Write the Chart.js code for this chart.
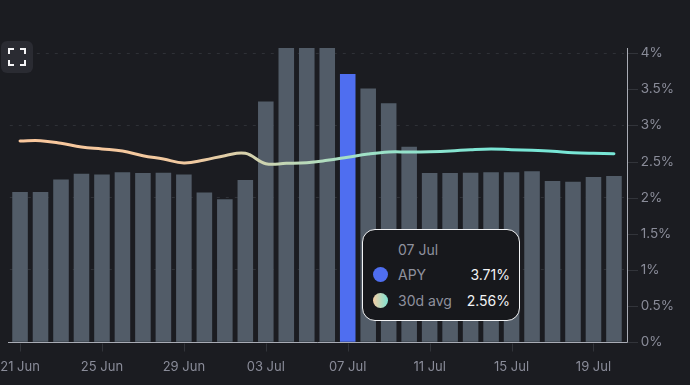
<!DOCTYPE html>
<html><head><meta charset="utf-8">
<script src="https://cdn.jsdelivr.net/npm/chart.js@4"></script>
<style>
html,body{margin:0;padding:0;background:#1b1c21;width:690px;height:385px;overflow:hidden;font-family:Inter,sans-serif}
#wrap{position:absolute;left:0;top:0;width:690px;height:385px}
#btn{position:absolute;left:1px;top:41px;width:32px;height:32px;border-radius:6px;background:#2a2b32}
#btn svg{position:absolute;left:7px;top:7px}
#tip{position:absolute;left:362px;top:229px;width:156px;height:90px;border:1.5px solid #f2f3f5;border-radius:13px;background:#17181c;font-size:14px;color:#8f919e}
#tip div{position:absolute;white-space:nowrap;line-height:18px}
.dot{width:15px;height:15px;border-radius:50%;left:10px}
.v{right:9px;color:#f2f3f5}
</style></head><body>
<div id="wrap"><canvas id="c" width="690" height="385"></canvas></div>
<div id="btn"><svg width="18" height="18" viewBox="0 0 18 18" fill="none" stroke="#f4f4f6" stroke-width="2"><path d="M1 6V1H6M12 1H17V6M17 12V17H12M6 17H1V12"/></svg></div>
<div id="tip">
<div id="tDate" style="left:35px;top:10.5px"></div>
<div class="dot" style="top:37px;background:#4f6ef0"></div>
<div id="n0" style="left:35px;top:36px"></div><div id="v0" class="v" style="top:36px"></div>
<div class="dot" style="top:63px;background:linear-gradient(90deg,#f6cda4,#7fe3d3)"></div>
<div id="n1" style="left:35px;top:61.5px"></div><div id="v1" class="v" style="top:61.5px"></div>
</div>
<script>
const categories = ["21 Jun","22 Jun","23 Jun","24 Jun","25 Jun","26 Jun","27 Jun","28 Jun","29 Jun","30 Jun","01 Jul","02 Jul","03 Jul","04 Jul","05 Jul","06 Jul","07 Jul","08 Jul","09 Jul","10 Jul","11 Jul","12 Jul","13 Jul","14 Jul","15 Jul","16 Jul","17 Jul","18 Jul","19 Jul","20 Jul"];
const apy = [2.08,2.08,2.25,2.33,2.32,2.35,2.34,2.345,2.32,2.07,1.98,2.245,3.33,4.5,4.5,4.5,3.71,3.51,3.305,2.705,2.34,2.34,2.345,2.35,2.35,2.365,2.23,2.22,2.285,2.30];
const avg30 = [2.784,2.789,2.752,2.70,2.674,2.646,2.581,2.535,2.48,2.521,2.581,2.614,2.47,2.476,2.484,2.517,2.56,2.604,2.632,2.632,2.636,2.646,2.664,2.674,2.664,2.655,2.642,2.623,2.614,2.609];
const yTicks = [0,0.5,1,1.5,2,2.5,3,3.5,4];
const activeIndex = 16;
const seriesNames = ["APY","30d avg"];

document.getElementById('tDate').textContent = categories[activeIndex];
document.getElementById('n0').textContent = seriesNames[0];
document.getElementById('n1').textContent = seriesNames[1];
document.getElementById('v0').textContent = apy[activeIndex].toFixed(2)+'%';
document.getElementById('v1').textContent = avg30[activeIndex].toFixed(2)+'%';

const axisLines = {
  id:'axisLines',
  afterDatasetsDraw(ch){
    const c=ch.ctx, y=ch.scales.y, x=ch.scales.x;
    c.save();
    c.strokeStyle='#a9acb5'; c.lineWidth=1;
    const y0=Math.round(y.getPixelForValue(0))+0.5;
    c.beginPath(); c.moveTo(8,y0); c.lineTo(627.5,y0); c.moveTo(627.5,y0); c.lineTo(627.5,48); c.stroke();
    c.strokeStyle='#32343a';
    c.beginPath();
    yTicks.forEach(t=>{const p=Math.round(y.getPixelForValue(t))+0.5;c.moveTo(628,p);c.lineTo(638,p);});
    categories.forEach((l,i)=>{ if(i%4===0){const p=Math.round(x.getPixelForValue(i))+0.5;c.moveTo(p,y0+1);c.lineTo(p,y0+9);} });
    c.stroke();
    c.restore();
  }
};

new Chart(document.getElementById('c'),{
  data:{labels:categories,datasets:[
    {type:'line',label:seriesNames[1],data:avg30,order:1,pointRadius:0,borderWidth:3,tension:0.4,
     borderCapStyle:'round',
     borderColor(ctx){const a=ctx.chart.chartArea;if(!a)return '#f6cda4';
       const g=ctx.chart.ctx.createLinearGradient(a.left,0,a.right,0);
       g.addColorStop(0,'#fbc79c');g.addColorStop(0.3,'#f0c9a0');g.addColorStop(0.55,'#a5e0c4');g.addColorStop(0.8,'#78e6d6');g.addColorStop(1,'#78e6d6');return g;}},
    {type:'bar',label:seriesNames[0],data:apy,order:2,categoryPercentage:1,barPercentage:0.76,
     backgroundColor:apy.map((v,i)=>i===activeIndex?'#4f6ef0':'#525c68'),borderWidth:0}
  ]},
  options:{responsive:false,animation:false,
    layout:{autoPadding:false,padding:{left:9.8,right:0,top:48,bottom:0}},
    plugins:{legend:{display:false},tooltip:{enabled:false}},
    scales:{
      x:{grid:{display:false},border:{display:false},
        afterFit(s){s.height=42.7;s.paddingLeft=0;s.paddingRight=0;},
        ticks:{color:'#8a8c99',font:{family:'Inter',size:13},maxRotation:0,autoSkip:false,padding:9,
          callback(v,i){return i%4===0?categories[i]:'';}}},
      y:{position:'right',min:0,max:4.07,afterBuildTicks(s){s.ticks=yTicks.map(v=>({value:v}));},
        afterFit(s){s.width=65.8;s.paddingTop=0;s.paddingBottom=0;},
        grid:{drawTicks:false,color(c){return Number.isInteger(c.tick.value)&&c.tick.value>0?'#2f3137':'transparent';}},
        border:{display:false,dash:[3,6]},
        ticks:{color:'#8a8c99',font:{family:'Inter',size:13.5},padding:16.5,callback(v){return v+'%';}}}
    }
  },
  plugins:[axisLines]
});
</script>
</body></html>
